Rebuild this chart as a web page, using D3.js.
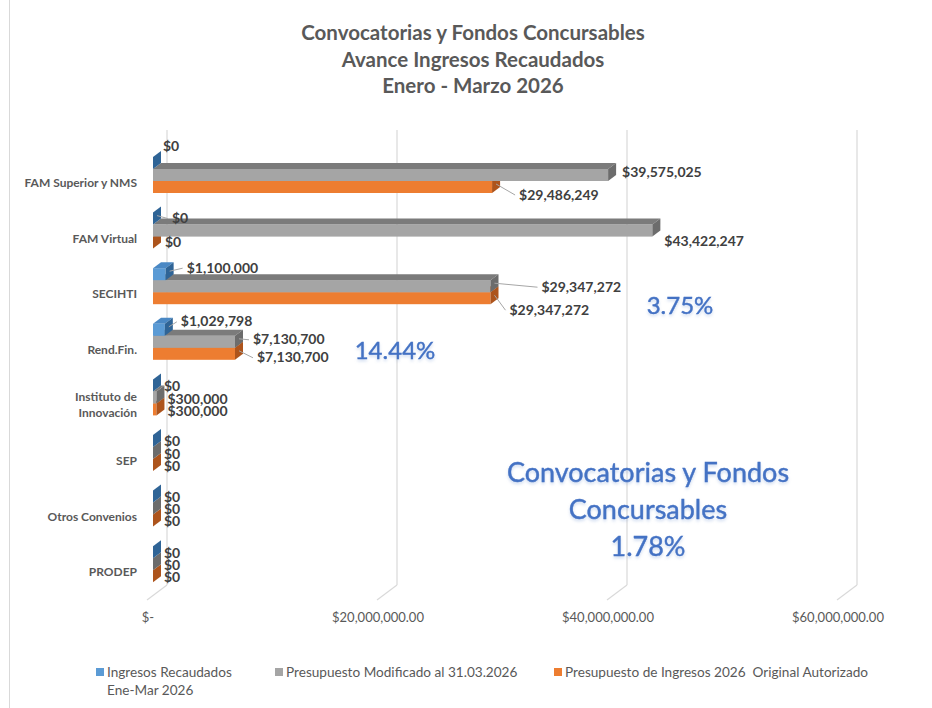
<!DOCTYPE html>
<html><head><meta charset="utf-8">
<script src="https://cdn.jsdelivr.net/npm/d3@7"></script>
<style>body{margin:0;background:#fff}svg{display:block;font-family:Lato,"Open Sans",sans-serif}</style>
</head><body>
<svg id="chart" width="932" height="708"></svg>
<script>
// ---------- data ----------
const titleLines = ["Convocatorias y Fondos Concursables", "Avance Ingresos Recaudados", "Enero - Marzo 2026"];
const categories = ["FAM Superior y NMS", "FAM Virtual", "SECIHTI", "Rend.Fin.", "Instituto de Innovación", "SEP", "Otros Convenios", "PRODEP"];
const ingresosRecaudados = [0, 0, 1100000, 1029798, 0, 0, 0, 0];
const presupuestoModificado = [39575025, 43422247, 29347272, 7130700, 300000, 0, 0, 0];
const presupuestoOriginal = [29486249, 0, 29347272, 7130700, 300000, 0, 0, 0];
const seriesNames = ["Ingresos Recaudados Ene-Mar 2026", "Presupuesto Modificado al 31.03.2026", "Presupuesto de Ingresos 2026  Original Autorizado"];
const tickValues = [0, 20000000, 40000000, 60000000];
const tickLabels = ["$-", "$20,000,000.00", "$40,000,000.00", "$60,000,000.00"];
const annotations = [["3.75%"], ["14.44%"], ["Convocatorias y Fondos", "Concursables", "1.78%"]];

// ---------- layout (label nudges relative to bar end: [dx, dy, leader]) ----------
const labelNudge = [
  [[6,-13,0],[10,0,0],[23,11,1]],
  [[15,3,1],[8,14,0],[8,3,0]],
  [[17,-3,1],[47,4,1],[15,15,1]],
  [[12,-5,1],[14,1,1],[18,7,1]],
  [[7,4,0],[7,5,0],[7,5,0]],
  [[7,4,0],[7,4,0],[7,4,0]],
  [[7,4,0],[7,4,0],[7,4,0]],
  [[7,4,0],[7,4,0],[7,4,0]]
];
const colors = [
  {front:"#5b9bd5", top:"#4a88c4", side:"#2f6496"},
  {front:"#a5a5a5", top:"#7b7b7b", side:"#6c6c6c"},
  {front:"#ed7d31", top:"#c9682a", side:"#ad541c"}
];

const svg = d3.select("#chart");
const DX = 8, DY = -6;          // bar depth
const FX = -6, FY = 4.5;        // floor front offset relative to bar front
const BX = 14, BY = -10.5;      // back wall offset relative to bar front

const x = d3.scaleLinear().domain([0, 60000000]).range([153, 843]);
const y = d3.scaleBand().domain(categories).range([147.2, 147.2 + 8 * 55.6])
  .paddingInner(0.3525).paddingOuter(0.17625);
const s = d3.scaleBand().domain([0,1,2]).range([0, y.bandwidth()]);
const wallTop = 130, wallBottom = y.range()[1] - 7;

// chart frame left edge
svg.append("line").attr("x1",9.5).attr("x2",9.5).attr("y1",0).attr("y2",708).attr("stroke","#d9d9d9");

// title
svg.append("g").selectAll("text").data(titleLines).join("text")
  .attr("x", 473).attr("y", (d,i) => 40 + i * 26.5)
  .attr("text-anchor","middle").attr("font-size",20.5).attr("font-weight","bold").attr("fill","#595959")
  .text(d => d);

// gridlines on back wall + floor
const grid = svg.append("g");
tickValues.forEach(v => {
  const gx = x(v) + BX;
  grid.append("line").attr("x1",gx).attr("x2",gx).attr("y1",wallTop).attr("y2",wallBottom)
    .attr("stroke","#d9d9d9").attr("stroke-width",1.2);
  grid.append("line").attr("x1",gx).attr("x2",x(v)+FX).attr("y1",wallBottom).attr("y2",wallBottom + (FY - BY))
    .attr("stroke","#d9d9d9").attr("stroke-width",1.2);
});

// axis tick labels
svg.append("g").selectAll("text").data(tickValues).join("text")
  .attr("x", d => x(d) + FX + 1).attr("y", 622).attr("text-anchor","middle")
  .attr("font-size",13).attr("fill","#595959").text((d,i) => tickLabels[i]);

// category labels
const catG = svg.append("g");
categories.forEach(c => {
  const t = catG.append("text").attr("text-anchor","end").attr("font-size",12).attr("font-weight","bold").attr("fill","#595959");
  const lines = c === "Instituto de Innovación" ? ["Instituto de", "Innovación"] : [c];
  const cy = y(c) + 26;
  lines.forEach((l,i) => t.append("tspan").attr("x",137).attr("y", cy + 4 + (i - (lines.length-1)/2) * 16).text(l));
});

// bars
const seriesValues = [ingresosRecaudados, presupuestoModificado, presupuestoOriginal];
const barsG = svg.append("g");
categories.forEach((c, ci) => {
  [2,1,0].forEach(si => {
    const v = seriesValues[si][ci];
    const x0 = x(0), x1 = x(v), y0 = y(c) + s(si), h = s.bandwidth();
    const col = colors[si];
    if (x1 > x0) {
      barsG.append("rect").attr("x",x0).attr("y",y0).attr("width",x1-x0).attr("height",h).attr("fill",col.front);
      barsG.append("polygon").attr("points",[[x0,y0],[x1,y0],[x1+DX,y0+DY],[x0+DX,y0+DY]].join(" ")).attr("fill",col.top);
    }
    barsG.append("polygon").attr("points",[[x1,y0],[x1+DX,y0+DY],[x1+DX,y0+h+DY],[x1,y0+h]].join(" ")).attr("fill",col.side);
  });
});

// data labels
const fmt = d3.format(",.0f");
const labG = svg.append("g");
categories.forEach((c, ci) => {
  [0,1,2].forEach(si => {
    const v = seriesValues[si][ci];
    const ax = x(v) + DX/2, ay = y(c) + s(si) + s.bandwidth()/2 + DY/2;
    const [ndx, ndy, leader] = labelNudge[ci][si];
    const lx = ax + ndx, ly = ay + ndy;
    if (leader) {
      labG.append("polyline").attr("points",[[ax,ay],[lx-4,ly]].join(" "))
        .attr("fill","none").attr("stroke","#a6a6a6").attr("stroke-width",1);
    }
    labG.append("text").attr("x",lx).attr("y",ly + 4.5).attr("font-size",14).attr("font-weight","bold")
      .attr("fill","#404040").text("$" + fmt(v));
  });
});

// annotations
const annPos = [{cx:680, y:314, fs:24, lh:0}, {cx:395, y:359, fs:24, lh:0}, {cx:648, y:482, fs:27, lh:37}];
const annG = svg.append("g");
annotations.forEach((lines, ai) => {
  const p = annPos[ai];
  lines.forEach((l, li) => {
    const by = p.y + li * p.lh;
    annG.append("text").attr("x",p.cx).attr("y",by).attr("text-anchor","middle").attr("font-size",p.fs)
      .attr("fill","#4472c4").attr("stroke","#4472c4").attr("stroke-width",0.4)
      .style("filter","drop-shadow(0px 2px 1.5px rgba(68,114,196,0.25))").text(l);
  });
});

// legend
const legX = [96, 275, 554];
const legG = svg.append("g");
seriesNames.forEach((n, i) => {
  legG.append("rect").attr("x",legX[i]).attr("y",668).attr("width",8).attr("height",8).attr("fill",colors[i].front);
  const t = legG.append("text").attr("font-size",13.6).attr("fill","#595959");
  const lines = i === 0 ? ["Ingresos Recaudados", "Ene-Mar 2026"] : [n];
  lines.forEach((l, li) => t.append("tspan").attr("x",legX[i]+11).attr("y",677 + li*18).attr("xml:space","preserve").text(l));
});
</script>
</body></html>
